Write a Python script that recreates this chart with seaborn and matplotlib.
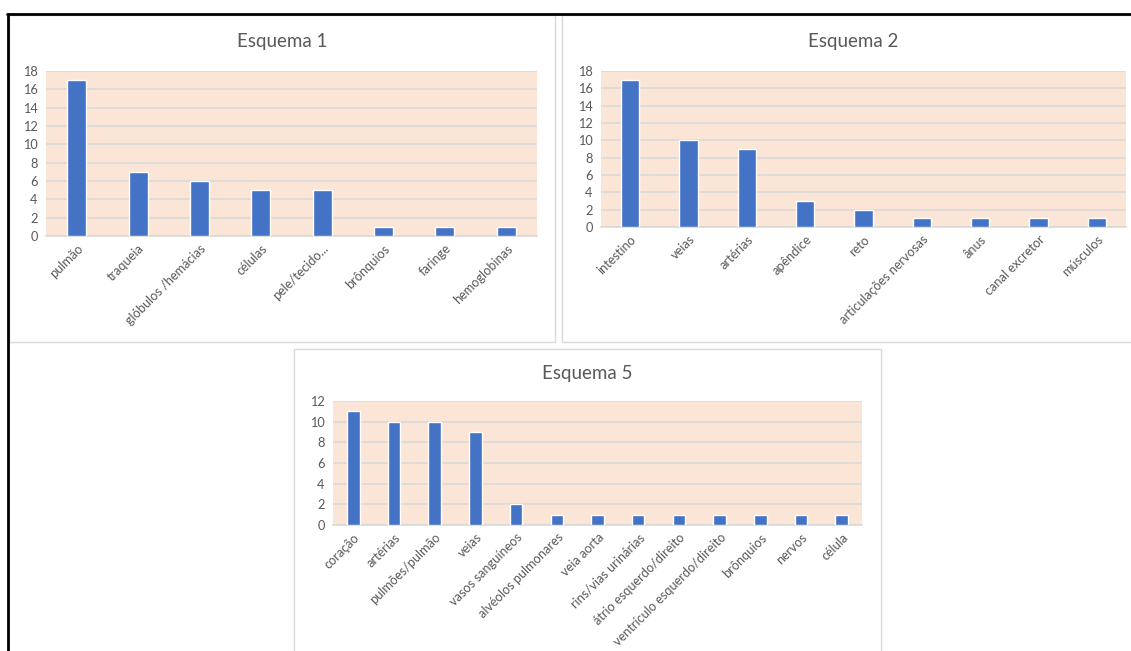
import matplotlib
matplotlib.use("Agg")
import matplotlib.pyplot as plt
import seaborn as sns
import pandas as pd
from matplotlib.patches import Rectangle
from matplotlib.lines import Line2D

# ---- data ----
cats1 = ["pulmão", "traqueia", "glóbulos /hemácias", "células", "pele/tecido...",
         "brônquios", "faringe", "hemoglobinas"]
vals1 = [17, 7, 6, 5, 5, 1, 1, 1]

cats2 = ["intestino", "veias", "artérias", "apêndice", "reto", "articulações nervosas",
         "ânus", "canal excretor", "músculos"]
vals2 = [17, 10, 9, 3, 2, 1, 1, 1, 1]

cats5 = ["coração", "artérias", "pulmões/pulmão", "veias", "vasos sanguíneos",
         "alvéolos pulmonares", "veia aorta", "rins/vias urinárias",
         "átrio esquerdo/direito", "ventrículo esquerdo/direito", "brônquios",
         "nervos", "célula"]
vals5 = [11, 10, 10, 9, 2, 1, 1, 1, 1, 1, 1, 1, 1]

titles = ["Esquema 1", "Esquema 2", "Esquema 5"]

sns.set_theme(style="white")
plt.rcParams["font.family"] = ["Lato", "DejaVu Sans"]

W, H = 1131, 651
fig = plt.figure(figsize=(W / 100, H / 100), dpi=100)
fig.patch.set_facecolor("white")

def fx(x):
    return x / W

def fy(y):
    return 1 - y / H

BAR = "#4472C4"
PEACH = "#FBE5D6"
GRID = "#D9D9D9"
TXT = "#595959"

# panel boxes (x0, y0, x1, y1) in pixels
boxes = [(9, 15, 555, 342), (562, 15, 1140, 342), (294, 349, 881, 660)]
for (x0, y0, x1, y1) in boxes:
    fig.patches.append(Rectangle((fx(x0), fy(y1)), fx(x1 - x0), (y1 - y0) / H,
                                 transform=fig.transFigure, facecolor="white",
                                 edgecolor="#D9D9D9", lw=1.0, zorder=-10))

# outer black border
fig.lines.append(Line2D([fx(7), 1.0], [fy(14), fy(14)], transform=fig.transFigure,
                        color="black", lw=2.0, zorder=5))
fig.lines.append(Line2D([fx(8), fx(8)], [fy(14), 0.0], transform=fig.transFigure,
                        color="black", lw=2.0, zorder=5))

# axes areas (x0, ytop, x1, ybottom) in pixels
areas = [(46, 71, 537, 236), (601, 71, 1126, 227), (333, 401, 862, 525)]
ymaxes = [18, 18, 12]
datasets = [(cats1, vals1), (cats2, vals2), (cats5, vals5)]
title_pos = [(282, 42), (853, 42), (587, 373)]

for (x0, yt, x1, yb), ymax, (cats, vals), title, (tx, ty) in zip(
        areas, ymaxes, datasets, titles, title_pos):
    ax = fig.add_axes([fx(x0), fy(yb), (x1 - x0) / W, (yb - yt) / H])
    ax.set_zorder(1)
    ax.set_facecolor(PEACH)
    df = pd.DataFrame({"cat": cats, "val": vals})
    sns.barplot(data=df, x="cat", y="val", color=BAR, width=0.31, ax=ax,
                saturation=1, zorder=3)
    ax.set_xlim(-0.5, len(cats) - 0.5)
    ax.set_ylim(0, ymax)
    ax.set_yticks(range(0, ymax + 1, 2))
    ax.yaxis.grid(True, color=GRID, lw=1.2, zorder=0)
    ax.set_axisbelow(True)
    for s in ["top", "right", "left"]:
        ax.spines[s].set_visible(False)
    ax.spines["bottom"].set_color(GRID)
    ax.spines["bottom"].set_linewidth(1.2)
    ax.set_xlabel("")
    ax.set_ylabel("")
    ax.tick_params(axis="both", length=0, colors=TXT, labelsize=9.2)
    ax.tick_params(axis="y", pad=6)
    ax.tick_params(axis="x", pad=4.5)
    for lab in ax.get_xticklabels():
        lab.set_rotation(45)
        lab.set_ha("right")
        lab.set_rotation_mode("anchor")
        lab.set_color(TXT)
    fig.text(fx(tx), fy(ty), title, ha="center", va="center", fontsize=13.5,
             color=TXT, zorder=2)

fig.savefig("out.png", dpi=100, facecolor="white")
